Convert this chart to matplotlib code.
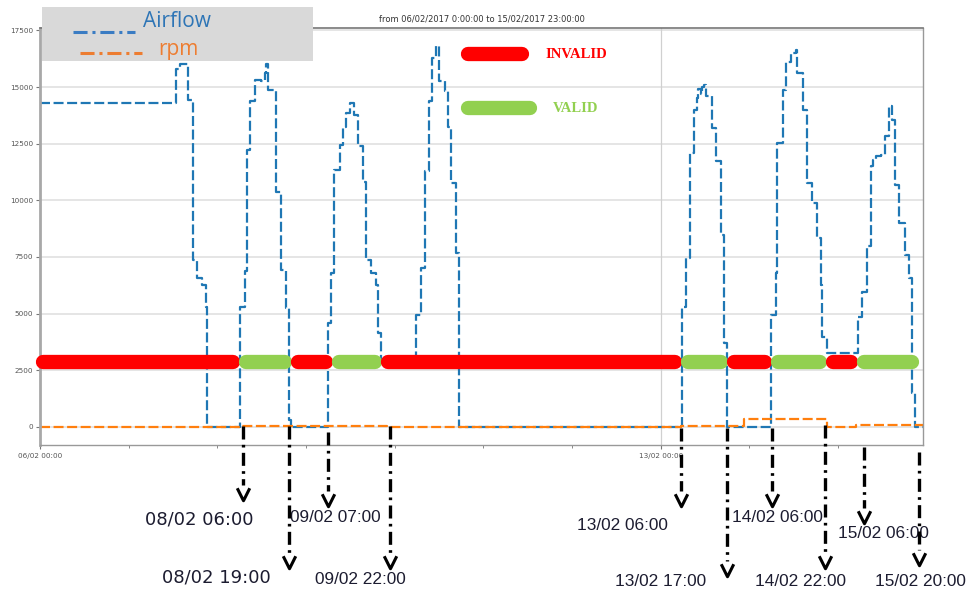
import numpy as np
import matplotlib
matplotlib.use("Agg")
import matplotlib.pyplot as plt
import matplotlib.dates as mdates
from matplotlib.transforms import blended_transform_factory
from matplotlib.patches import Rectangle
from matplotlib.lines import Line2D
from matplotlib.path import Path
from datetime import datetime, timedelta

# ---------------- data ----------------
START = datetime(2017, 2, 6, 0, 0)
END = datetime(2017, 2, 15, 23, 0)

# Airflow change points (hours after 06/02 00:00) and values (step, post)
airflow_hours = [0, 36.8, 37.8, 40.0, 41.3, 42.4, 43.9, 45.0, 45.3,
                 54.05, 55.4, 55.9, 56.8, 58.1, 59.9, 60.8, 61.3, 61.7, 64.0, 65.3, 66.7, 67.5, 67.9,
                 77.9, 78.8, 79.7, 81.1, 82.0, 82.9, 83.8, 85.1, 86.0, 87.4, 88.3, 89.6, 91.0, 91.4, 92.3,
                 101.8, 103.2, 104.1, 105.2, 106.1, 107.2, 108.1, 109.5, 110.4, 111.3, 112.6, 113.5,
                 173.7, 174.8, 175.9, 177.0, 177.7, 178.2, 178.8, 179.3, 179.8, 180.3, 182.0, 182.9,
                 184.2, 185.1, 186.0,
                 197.8, 199.1, 199.5, 201.1, 202.0, 203.2, 204.5, 204.9, 206.5, 207.6, 209.0, 210.4,
                 211.3, 211.7, 213.1,
                 221.5, 222.5, 223.9, 224.8, 225.5, 226.3, 227.5, 228.8, 229.7, 230.6, 231.5, 232.6,
                 234.0, 235.1, 236.0, 236.9, 239.0]
airflow_values = [14300, 15800, 16000, 14450, 7370, 6580, 6270, 5310, 0,
                  5310, 6860, 12230, 14370, 15330, 15250, 15620, 16000, 14890, 10390, 6930, 5240, 300, 0,
                  4580, 6790, 11350, 12460, 13260, 13860, 14300, 13780, 12380, 10830, 7380, 6790, 6270, 4140, 2900,
                  4950, 7010, 11280, 14370, 16290, 16800, 15250, 14810, 13260, 10760, 7670, 0,
                  5310, 7450, 12090, 14000, 14500, 14900, 14700, 15000, 15100, 14600, 13190, 11720,
                  8480, 3700, 0,
                  4950, 6790, 12530, 14880, 16130, 16500, 16650, 15620, 14000, 10760, 9880, 8330,
                  6270, 3990, 3250,
                  4870, 5970, 7970, 11500, 11800, 11950, 12000, 12820, 14150, 13560, 10690, 9000,
                  7600, 6570, 1490, 0, 0]

rpm_hours = [0, 54, 67.9, 78, 94, 173.5, 190.5, 213, 221, 239]
rpm_values = [0, 60, 20, 60, 0, 20, 340, 0, 80, 80]

# Validity status segments (boundaries in hours)
status_bounds = [-0.9, 54, 68, 79.3, 92.5, 173.6, 186.1, 198, 213, 221.3, 237.8]
status_labels = ["INVALID", "VALID", "INVALID", "VALID", "INVALID",
                 "VALID", "INVALID", "VALID", "INVALID", "VALID"]

# Hand annotations (hours where the arrows point) and their labels
annot_hours = [54.9, 67.4, 77.9, 94.6, 173.4, 186.0, 198.2, 212.6, 223.0, 237.8]
annot_texts = ["08/02 06:00", "08/02 19:00", "09/02 07:00", "09/02 22:00", "13/02 06:00",
               "13/02 17:00", "14/02 06:00", "14/02 22:00", "15/02 06:00", "15/02 20:00"]

yticks = [0, 2500, 5000, 7500, 10000, 12500, 15000, 17500]
title = "from 06/02/2017 0:00:00 to 15/02/2017 23:00:00"

# ---------------- layout / style ----------------
W, H = 970, 593
def fx(x): return x / W
def fy(y): return 1 - y / H

arrow_top_px = [426, 426, 432, 426, 428, 428, 428, 425, 447, 452]
arrow_bot_px = [485, 553, 491, 553, 491, 561, 491, 553, 508, 550]
chev_px = [494, 562, 500, 562, 500, 570, 500, 562, 517, 559]
text_left_px = [145, 161.7, 290, 315, 576.7, 615, 731.7, 755, 838.3, 875]
text_cy_px = [520, 578, 518, 580, 526, 582, 517, 582, 533, 582]
text_big = [True, True, False, False, False, False, False, False, False, False]

RED = "#ff0000"
GREEN = "#92d050"
BAR_LW = 10.3
BAR_Y = 2870

def to_num(h):
    return mdates.date2num(START + timedelta(hours=float(h)))

fig = plt.figure(figsize=(W / 100, H / 100), dpi=100)
ax = fig.add_axes([fx(40), fy(445), (923 - 40) / W, (445 - 28) / H])

ax.set_xlim(mdates.date2num(START), mdates.date2num(END))
ax.set_ylim(-800, 17610)

# grid
for v in yticks:
    ax.axhline(v, color="#dedede", lw=1.1, zorder=0.5)
ax.axvline(to_num(7 * 24), color="#d0d0d0", lw=0.9, zorder=0.5)

# series
ax.plot([to_num(h) for h in airflow_hours], airflow_values, drawstyle="steps-post",
        color="#1f77b4", lw=1.6, dashes=(4.5, 1.6), zorder=2)
ax.plot([to_num(h) for h in rpm_hours], rpm_values, drawstyle="steps-post",
        color="#ff7f0e", lw=1.6, dashes=(4.5, 1.6), zorder=2.1)

# status bars
hours_per_px = 1 / 3.7
cap_r = 6.5 * hours_per_px
for i, lab in enumerate(status_labels):
    a = status_bounds[i] + cap_r
    b = status_bounds[i + 1] - cap_r
    ax.plot([to_num(a), to_num(b)], [BAR_Y, BAR_Y], color=RED if lab == "INVALID" else GREEN,
            lw=BAR_LW, solid_capstyle="round", zorder=3, clip_on=False)

# inner legend for status
axw = 923 - 40
def axfx(x): return (x - 40) / axw
def axfy(y): return (445 - y) / (445 - 28)
rr = 6.5
ax.plot([axfx(461.7 + rr), axfx(528.3 - rr)], [axfy(54)] * 2, transform=ax.transAxes,
        color=RED, lw=BAR_LW, solid_capstyle="round", zorder=3)
ax.plot([axfx(461.7 + rr), axfx(536.7 - rr)], [axfy(108.3)] * 2, transform=ax.transAxes,
        color=GREEN, lw=BAR_LW, solid_capstyle="round", zorder=3)
ax.text(axfx(545), axfy(55), "INVALID", transform=ax.transAxes, color=RED,
        fontweight="bold", family="Liberation Serif", fontsize=10.5, va="center", ha="left")
ax.text(axfx(553.3), axfy(109), "VALID", transform=ax.transAxes, color=GREEN,
        fontweight="bold", family="Liberation Serif", fontsize=10.5, va="center", ha="left")

# axes styling
ax.set_yticks(yticks)
ax.set_yticklabels([str(v) for v in yticks])
ax.xaxis.set_major_locator(mdates.DayLocator(bymonthday=[6, 13]))
ax.xaxis.set_major_formatter(mdates.DateFormatter("%d/%m %H:%M"))
ax.xaxis.set_minor_locator(mdates.DayLocator())
ax.tick_params(axis="both", which="major", labelsize=5.2, labelcolor="#555555",
               color="#777777", length=3, width=0.8, pad=2)
ax.tick_params(axis="x", which="minor", color="#888888", length=2.5, width=0.7)
ax.tick_params(axis="x", which="major", pad=3)
for s in ["left"]:
    ax.spines[s].set_color("#a8a8a8"); ax.spines[s].set_linewidth(2.0)
for s in ["bottom", "right"]:
    ax.spines[s].set_color("#999999"); ax.spines[s].set_linewidth(1.0)
ax.spines["top"].set_color("#777777"); ax.spines["top"].set_linewidth(1.2)
ax.set_title(title, fontsize=6, color="#333333", pad=5)

# annotations
bt = blended_transform_factory(ax.transData, fig.transFigure)
chev = Path([(-1, 1), (0, -1), (1, 1)], [Path.MOVETO, Path.LINETO, Path.LINETO])
for i, h in enumerate(annot_hours):
    xn = to_num(h)
    ln = Line2D([xn, xn], [fy(arrow_top_px[i]), fy(arrow_bot_px[i])], transform=bt,
                color="black", lw=2.4, linestyle=(0, (3.9, 1.6, 0.8, 1.6)),
                solid_capstyle="butt", dash_capstyle="butt", clip_on=False, zorder=5)
    fig.add_artist(ln)
    mk = Line2D([xn], [fy(chev_px[i])], transform=bt, marker=chev, markersize=9,
                markeredgewidth=2.2, markerfacecolor="none", markeredgecolor="black",
                linestyle="none", clip_on=False, zorder=5)
    fig.add_artist(mk)
    if text_big[i]:
        fig.text(fx(text_left_px[i]), fy(text_cy_px[i]), annot_texts[i], fontsize=13,
                 family="DejaVu Sans", color="#1c1c30", ha="left", va="center")
    else:
        fig.text(fx(text_left_px[i]), fy(text_cy_px[i]), annot_texts[i], fontsize=12.4,
                 family="Liberation Sans", color="#1c1c30", ha="left", va="center")

# overlay legend box (top-left)
fig.add_artist(Rectangle((fx(42), fy(61)), 271 / W, 54 / H, transform=fig.transFigure,
                         facecolor="#d9d9d9", edgecolor="none", zorder=10))
fig.add_artist(Line2D([fx(73), fx(135)], [fy(32)] * 2, transform=fig.transFigure,
                      color="#3a7cc3", lw=2.2, linestyle=(0, (4.6, 1.6, 1.0, 1.6)), zorder=11))
fig.add_artist(Line2D([fx(80), fx(142)], [fy(52.5)] * 2, transform=fig.transFigure,
                      color="#ed7d31", lw=2.2, linestyle=(0, (4.6, 1.6, 1.0, 1.6)), zorder=11))
fig.text(fx(143), fy(27), "Airflow", fontsize=15, family="Open Sans", color="#2e75b6",
         ha="left", va="baseline", zorder=12)
fig.text(fx(158), fy(55), "rpm", fontsize=15, family="Open Sans", color="#ed7d31",
         ha="left", va="baseline", zorder=12)

fig.savefig("out.png", dpi=100)
